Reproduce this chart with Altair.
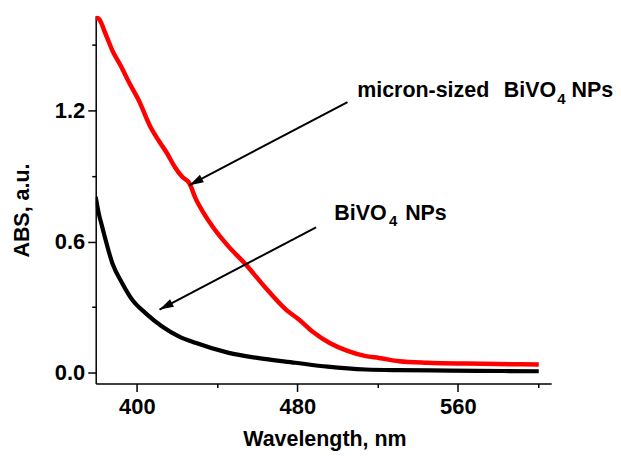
import math
import altair as alt
import pandas as pd

# ---------------- data ----------------
red_wl = [379.5, 381.1, 384.4, 388.0, 391.9, 396.0, 401.0, 406.8, 411.0, 415.1,
          419.0, 422.6, 426.2, 429.2, 433.0, 437.8, 445.0, 454.4, 464.0, 474.3,
          480.9, 488.0, 495.9, 505.0, 514.1, 520.7, 530.7, 545.0, 563.9, 580.0, 600.3]
red_abs = [1.625, 1.618, 1.550, 1.470, 1.405, 1.330, 1.245, 1.124, 1.060, 1.003,
           0.940, 0.896, 0.866, 0.799, 0.735, 0.668, 0.585, 0.494, 0.390, 0.289,
           0.243, 0.185, 0.137, 0.100, 0.076, 0.068, 0.053, 0.046, 0.042, 0.040, 0.038]

black_wl = [379.5, 381.0, 382.8, 384.4, 387.8, 392.7, 398.0, 404.3, 412.6, 420.9,
            429.2, 445.8, 460.0, 479.0, 495.0, 514.1, 530.0, 547.1, 570.0, 600.3]
black_abs = [0.804, 0.730, 0.665, 0.608, 0.501, 0.410, 0.330, 0.273, 0.212, 0.167,
             0.137, 0.091, 0.068, 0.046, 0.028, 0.015, 0.012, 0.011, 0.009, 0.007]

x_major_ticks = [400, 480, 560]
x_minor_ticks = [440, 520, 600]
y_major_ticks = [0.0, 0.6, 1.2]
y_minor_ticks = [0.3, 0.9, 1.5]

x_title = "Wavelength, nm"
y_title = "ABS, a.u."

# annotation arrows (tail -> tip), data coordinates
arrow_tail_x = [505.0, 489.3]
arrow_tail_y = [1.238, 0.665]
arrow_tip_x = [426.2, 411.3]
arrow_tip_y = [0.858, 0.289]

# annotation labels (main text pieces and subscripts)
label_txt = ["micron-sized", "BiVO", "NPs", "BiVO", "NPs"]
label_x = [509.8, 582.9, 616.6, 498.4, 533.7]
label_y = [1.261, 1.261, 1.261, 0.699, 0.699]
sub_txt = ["4", "4"]
sub_x = [609.5, 525.7]
sub_y = [1.231, 0.673]

# ---------------- layout ----------------
X_DOM = [379.5, 606.5]
Y_DOM = [-0.049, 1.633]
W, H = 457, 369
FONT = "Liberation Sans"
FS_LAB = 22
FS_TITLE = 21.5
FS_ANN = 21.5

kx = W / (X_DOM[1] - X_DOM[0])
ky = H / (Y_DOM[1] - Y_DOM[0])
angles = []
for tx, ty, hx, hy in zip(arrow_tail_x, arrow_tail_y, arrow_tip_x, arrow_tip_y):
    dx = (hx - tx) * kx
    dy = -(hy - ty) * ky
    n = math.hypot(dx, dy)
    ux, uy = dx / n, dy / n
    angles.append(math.degrees(math.atan2(ux, -uy)) % 360)

red_df = pd.DataFrame({"wl": red_wl, "v": red_abs})
black_df = pd.DataFrame({"wl": black_wl, "v": black_abs})
arrow_df = pd.DataFrame({"x": arrow_tail_x, "y": arrow_tail_y,
                         "x2": arrow_tip_x, "y2": arrow_tip_y, "ang": angles})
label_df = pd.DataFrame({"t": label_txt, "x": label_x, "y": label_y})
sub_df = pd.DataFrame({"t": sub_txt, "x": sub_x, "y": sub_y})

xs = alt.Scale(domain=X_DOM, nice=False, zero=False)
ys = alt.Scale(domain=Y_DOM, nice=False, zero=False)

common = dict(grid=False, domainColor="black", tickColor="black", labelColor="black",
              labelFont=FONT, labelFontSize=FS_LAB, labelFontWeight="bold",
              titleFont=FONT, titleFontSize=FS_TITLE, titleFontWeight="bold",
              titleColor="black", tickWidth=1.5, domainWidth=1.5)

x_major = alt.Axis(orient="bottom", values=x_major_ticks, format="d", tickSize=8,
                   labelPadding=5, title=x_title, titleX=229.5, titleY=62,
                   titleBaseline="alphabetic", titleAlign="center", **common)
y_major = alt.Axis(orient="left", values=y_major_ticks, format=".1f", tickSize=8,
                   labelPadding=3, title=y_title, titleAngle=270, titleX=-67, titleY=195,
                   titleBaseline="alphabetic", titleAlign="center", **common)
x_minor = alt.Axis(orient="bottom", values=x_minor_ticks, tickSize=4, labels=False,
                   domain=False, grid=False, title="", tickColor="black", tickWidth=1.5)
y_minor = alt.Axis(orient="left", values=y_minor_ticks, tickSize=4, labels=False,
                   domain=False, grid=False, title="", tickColor="black", tickWidth=1.5)


def X(f, axis=x_major):
    return alt.X(f, type="quantitative", scale=xs, axis=axis)


def Y(f, axis=y_major):
    return alt.Y(f, type="quantitative", scale=ys, axis=axis)


red_line = alt.Chart(red_df).mark_line(
    color="#ff0000", strokeWidth=4.5, clip=True, interpolate="monotone").encode(
    x=X("wl", x_minor), y=Y("v", y_minor), order="wl:Q")

black_line = alt.Chart(black_df).mark_line(
    color="black", strokeWidth=4.2, clip=True, interpolate="monotone").encode(
    x=X("wl"), y=Y("v"), order="wl:Q")

shafts = alt.Chart(arrow_df).mark_rule(color="black", strokeWidth=2).encode(
    x=X("x"), y=Y("y"), x2="x2:Q", y2="y2:Q")

heads = alt.Chart(arrow_df).mark_point(
    shape="M0,0 L-0.3,1 L0.3,1 Z", filled=True, color="black", opacity=1, size=800,
    strokeWidth=0).encode(
    x=X("x2"), y=Y("y2"), angle=alt.Angle("ang:Q", scale=None))

labels = alt.Chart(label_df).mark_text(
    font=FONT, fontSize=FS_ANN, fontWeight="bold", align="left", baseline="alphabetic",
    color="black").encode(x=X("x"), y=Y("y"), text="t:N")

subs = alt.Chart(sub_df).mark_text(
    font=FONT, fontSize=15, fontWeight="bold", align="left", baseline="alphabetic",
    color="black").encode(x=X("x"), y=Y("y"), text="t:N")

main = alt.layer(black_line, shafts, heads, labels, subs)

chart = alt.layer(red_line, main).resolve_axis(x="independent", y="independent").properties(
    width=W, height=H,
    autosize=alt.AutoSizeParams(type="none"),
    padding={"left": 88, "top": 7, "right": 62, "bottom": 70},
    background="white",
).configure_view(strokeWidth=0)

chart.save("out.html", embed_options={"renderer": "svg", "actions": False})
